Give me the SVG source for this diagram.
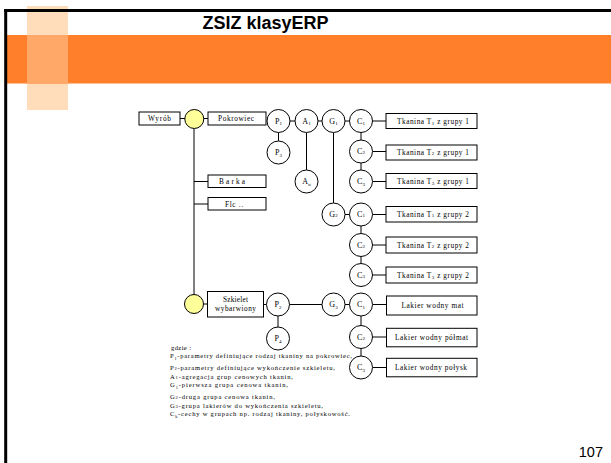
<svg xmlns="http://www.w3.org/2000/svg" width="611" height="463" viewBox="0 0 611 463">
<style>
.ln{stroke:#000;stroke-width:1;fill:none}
.bx{fill:#fff;stroke:#000;stroke-width:1}
.cc{fill:#fff;stroke:#000;stroke-width:1}
.yc{fill:#FFFF99;stroke:#000;stroke-width:1}
.t{font-family:"Liberation Serif","Times New Roman",serif;font-size:7.3px;fill:#000;text-anchor:middle}
.c{font-family:"Liberation Serif","Times New Roman",serif;font-size:8px;fill:#000;text-anchor:middle}
.lg{font-family:"Liberation Serif","Times New Roman",serif;font-size:6.6px;fill:#000}
</style>
<rect width="611" height="463" fill="#fff"/>
<g id="decor">
<rect x="27" y="6" width="41" height="104" fill="#FFDDBB"/>
<rect x="7" y="35" width="604" height="48.5" fill="#FF7F2A"/>
<rect x="27" y="35" width="41" height="48.5" fill="#FFA868"/>
<line x1="5.7" y1="9" x2="5.7" y2="463" stroke="#000" stroke-width="3"/>
<line x1="4.2" y1="10.5" x2="611" y2="10.5" stroke="#000" stroke-width="3"/>
</g>
<text id="title" x="265.5" y="29" font-family="Liberation Sans, Arial, sans-serif" font-size="18" font-weight="bold" text-anchor="middle">ZSIZ klasyERP</text>
<text id="page" x="603" y="456.5" font-family="Liberation Sans, Arial, sans-serif" font-size="14.5" text-anchor="end">107</text>
<g id="connectors">
<path class="ln" d="M180,118.5H185 M203.5,118.5H208 M194,128.5V294.5 M194,181.5H208 M194,204H208 M203.5,304H207.5 M263.5,304.5H266.5"/>
<path class="ln" d="M290,121H295 M318,121H322 M345,121H349.5 M278.5,132.5V141 M306.5,132.5V170 M333.5,132.5V203 M345,214.5H349.5 M289.5,304.5H322 M345,304.5H349.5 M278,316V327"/>
<path class="ln" d="M361,132.5V140 M361,163V170 M361,226V233.5 M361,256.5V263.5 M361,316V325.5 M361,348.5V356"/>
<path class="ln" d="M372.5,121H386 M372.5,151.5H386 M372.5,181.5H386 M372.5,214.5H386 M372.5,245H386 M372.5,275H386 M372.5,304.5H386 M372.5,337H386 M372.5,367.5H386"/>
</g>
<g id="wyrob"><rect class="bx" x="139" y="112" width="41" height="13"/><text class="t" x="159.5" y="121.2" textLength="23" lengthAdjust="spacing">Wyrób</text></g>
<g id="root1"><circle class="yc" cx="194.3" cy="119" r="9.5"/></g>
<g id="pokrowiec"><rect class="bx" x="208" y="112" width="58" height="13"/><text class="t" x="236" y="121.2" textLength="36" lengthAdjust="spacing">Pokrowiec</text></g>
<g id="barka"><rect class="bx" x="208" y="175" width="58" height="12.5"/><text class="t" x="232" y="184" textLength="26" lengthAdjust="spacing">Barka</text></g>
<g id="flc"><rect class="bx" x="208" y="197.5" width="58" height="12.5"/><text class="t" x="234" y="206.5" textLength="18" lengthAdjust="spacing">Flc ..</text></g>
<g id="root2"><circle class="yc" cx="194" cy="304" r="9.5"/></g>
<g id="szkielet"><rect class="bx" x="207.5" y="291.5" width="56" height="25.5"/><text class="t" x="235.5" y="302" textLength="25" lengthAdjust="spacing">Szkielet</text><text class="t" x="235.5" y="311" textLength="41" lengthAdjust="spacing">wybarwiony</text></g>
<g id="P1"><circle class="cc" cx="278.5" cy="121" r="11.5"/><text class="c" x="278.5" y="123.5">P<tspan font-size="5" dy="1.5">1</tspan></text></g>
<g id="A1"><circle class="cc" cx="306.5" cy="121" r="11.5"/><text class="c" x="306.5" y="123.5">A<tspan font-size="5" dy="1.5">1</tspan></text></g>
<g id="G1"><circle class="cc" cx="333.5" cy="121" r="11.5"/><text class="c" x="333.5" y="123.5">G<tspan font-size="5" dy="1.5">1</tspan></text></g>
<g id="P3"><circle class="cc" cx="278.5" cy="152.5" r="11.5"/><text class="c" x="278.5" y="155">P<tspan font-size="5" dy="1.5">3</tspan></text></g>
<g id="An"><circle class="cc" cx="306.5" cy="181.5" r="11.5"/><text class="c" x="306.5" y="184">A<tspan font-size="5" dy="1.5">n</tspan></text></g>
<g id="G2"><circle class="cc" cx="333.5" cy="214.5" r="11.5"/><text class="c" x="333.5" y="217">G<tspan font-size="5">2</tspan></text></g>
<g id="P2"><circle class="cc" cx="278" cy="304.5" r="11.5"/><text class="c" x="278" y="307">P<tspan font-size="5" dy="1.5">2</tspan></text></g>
<g id="P4"><circle class="cc" cx="278" cy="338.5" r="11.5"/><text class="c" x="278" y="341">P<tspan font-size="5" dy="1.5">4</tspan></text></g>
<g id="G3"><circle class="cc" cx="333.5" cy="304.5" r="11.5"/><text class="c" x="333.5" y="307">G<tspan font-size="5" dy="1.5">3</tspan></text></g>
<g id="C11"><circle class="cc" cx="361" cy="121" r="11.5"/><text class="c" x="361" y="123.5">C<tspan font-size="5" dy="1.5">1</tspan></text></g>
<g id="C12"><circle class="cc" cx="361" cy="151.5" r="11.5"/><text class="c" x="361" y="154">C<tspan font-size="5">2</tspan></text></g>
<g id="C13"><circle class="cc" cx="361" cy="181.5" r="11.5"/><text class="c" x="361" y="184">C<tspan font-size="5" dy="1.5">3</tspan></text></g>
<g id="C21"><circle class="cc" cx="361" cy="214.5" r="11.5"/><text class="c" x="361" y="217">C<tspan font-size="5">1</tspan></text></g>
<g id="C22"><circle class="cc" cx="361" cy="245" r="11.5"/><text class="c" x="361" y="247.5">C<tspan font-size="5">2</tspan></text></g>
<g id="C23"><circle class="cc" cx="361" cy="275" r="11.5"/><text class="c" x="361" y="277.5">C<tspan font-size="5">3</tspan></text></g>
<g id="C31"><circle class="cc" cx="361" cy="304.5" r="11.5"/><text class="c" x="361" y="307">C<tspan font-size="5" dy="1.5">1</tspan></text></g>
<g id="C32"><circle class="cc" cx="361" cy="337" r="11.5"/><text class="c" x="361" y="339.5">C<tspan font-size="5">2</tspan></text></g>
<g id="C33"><circle class="cc" cx="361" cy="367.5" r="11.5"/><text class="c" x="361" y="370">C<tspan font-size="5" dy="1.5">3</tspan></text></g>
<g id="T11"><rect class="bx" x="386" y="113.5" width="91" height="15"/><text class="t" x="433" y="123.5" textLength="72" lengthAdjust="spacing">Tkanina T<tspan font-size="5" dy="1.5">1</tspan><tspan dy="-1.5"> z grupy 1</tspan></text></g>
<g id="T12"><rect class="bx" x="386" y="145" width="91" height="15"/><text class="t" x="433" y="155" textLength="72" lengthAdjust="spacing">Tkanina T<tspan font-size="5">2</tspan> z grupy 1</text></g>
<g id="T13"><rect class="bx" x="386" y="173.5" width="91" height="15"/><text class="t" x="433" y="183.5" textLength="72" lengthAdjust="spacing">Tkanina T<tspan font-size="5" dy="1.5">3</tspan><tspan dy="-1.5"> z grupy 1</tspan></text></g>
<g id="T21"><rect class="bx" x="386" y="206.5" width="91" height="15.5"/><text class="t" x="433" y="216.8" textLength="72" lengthAdjust="spacing">Tkanina T<tspan font-size="5">1</tspan> z grupy 2</text></g>
<g id="T22"><rect class="bx" x="386" y="237" width="91" height="16"/><text class="t" x="433" y="247.5" textLength="72" lengthAdjust="spacing">Tkanina T<tspan font-size="5">2</tspan> z grupy 2</text></g>
<g id="T23"><rect class="bx" x="386" y="267" width="91" height="16"/><text class="t" x="433" y="277.5" textLength="72" lengthAdjust="spacing">Tkanina T<tspan font-size="5" dy="1.5">3</tspan><tspan dy="-1.5"> z grupy 2</tspan></text></g>
<g id="L1"><rect class="bx" x="386.5" y="296" width="90.5" height="19"/><text class="t" x="432.5" y="308" textLength="62" lengthAdjust="spacing">Lakier wodny mat</text></g>
<g id="L2"><rect class="bx" x="386.5" y="328.3" width="90.5" height="18.5"/><text class="t" x="431.5" y="340" textLength="73" lengthAdjust="spacing">Lakier wodny półmat</text></g>
<g id="L3"><rect class="bx" x="386.5" y="358.3" width="90.5" height="18.5"/><text class="t" x="431" y="370" textLength="72" lengthAdjust="spacing">Lakier wodny połysk</text></g>
<g id="legend">
<text class="lg" x="171" y="350" textLength="20" lengthAdjust="spacing">gdzie :</text>
<text class="lg" x="170" y="358.3" textLength="182" lengthAdjust="spacing">P<tspan font-size="4.3" dy="1.3">1</tspan><tspan dy="-1.3">-parametry definiujące rodzaj tkaniny na pokrowiec,</tspan></text>
<text class="lg" x="170" y="369.5" textLength="165" lengthAdjust="spacing">P<tspan font-size="4.6">2</tspan>-parametry definiujące wykończenie szkieletu,</text>
<text class="lg" x="170" y="379" textLength="123" lengthAdjust="spacing">A<tspan font-size="4.6">1</tspan>-agregacja grup cenowych tkanin,</text>
<text class="lg" x="170" y="387.3" textLength="118" lengthAdjust="spacing">G<tspan font-size="4.3" dy="1.3">1</tspan><tspan dy="-1.3">-pierwsza grupa cenowa tkanin,</tspan></text>
<text class="lg" x="170" y="398.5" textLength="105" lengthAdjust="spacing">G<tspan font-size="4.6">2</tspan>-druga grupa cenowa tkanin,</text>
<text class="lg" x="170" y="408" textLength="153" lengthAdjust="spacing">G<tspan font-size="4.6">3</tspan>-grupa lakierów do wykończenia szkieletu,</text>
<text class="lg" x="170" y="416.3" textLength="180" lengthAdjust="spacing">C<tspan font-size="4.3" dy="1.3">k</tspan><tspan dy="-1.3">-cechy w grupach np. rodzaj tkaniny, połyskowość.</tspan></text>
</g>
</svg>
